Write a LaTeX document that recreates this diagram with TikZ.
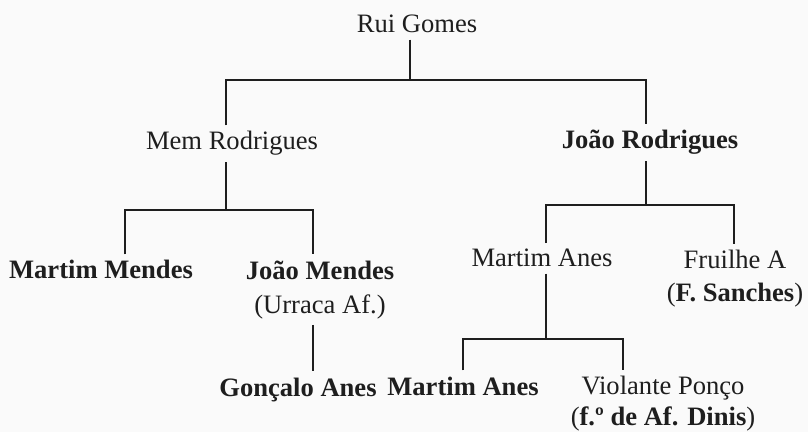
\documentclass[tikz,border=0pt]{standalone}
\usepackage{fontspec}
\setmainfont{Liberation Serif}
\usepackage{xcolor}
\usepackage{tikz}
\definecolor{ink}{HTML}{1E1E1E}
\definecolor{paper}{HTML}{FAFAFA}
\tikzset{
  tie/.style={draw=ink, line width=2pt},
  person/.style={text=ink, anchor=base, inner sep=0.15cm, align=center,
    font=\fontsize{18.9}{24}\selectfont},
  heir/.style={person, font=\fontsize{18.9}{24}\selectfont\bfseries}
}
\begin{document}
\begin{tikzpicture}[x=0.025cm, y=-0.025cm]
  \fill[paper] (0,0) rectangle (808,432);
  \useasboundingbox (0,0) rectangle (808,432);

  % people, placed at the baseline of their last line
  \node[person] (rui) at (417,33) {Rui Gomes};
  \node[person] (mem) at (232,150) {Mem Rodrigues};
  \node[heir] (joaor) at (650,149) {João Rodrigues};
  \node[heir] (mmendes) at (101,279) {Martim Mendes};
  \node[person] (jmendes) at (320,313) {\textbf{João Mendes}\\(Urraca Af.)};
  \node[heir] (goncalo) at (298,396) {Gonçalo Anes};
  \node[person] (manes) at (542,267) {Martim Anes};
  \node[person] (fruilhe) at (735,302) {Fruilhe A\\(\textbf{F. Sanches})};
  \node[heir] (manesb) at (463,395) {Martim Anes};
  \node[person, font=\fontsize{18.9}{21.5}\selectfont] (violante) at (663,425)
    {Violante Ponço\\(\textbf{f.º de Af. Dinis})};

  % junctions of the tree
  \coordinate (b1) at (410,80);
  \coordinate (b1l) at (226,80);
  \coordinate (b1r) at (646,80);
  \coordinate (b2) at (226,210);
  \coordinate (b2l) at (125,210);
  \coordinate (b2r) at (313,210);
  \coordinate (b3) at (646,205);
  \coordinate (b3l) at (546,205);
  \coordinate (b3r) at (734,205);
  \coordinate (b4) at (546,339);
  \coordinate (b4l) at (463,339);
  \coordinate (b4r) at (623,339);

  \draw[tie] (rui.south -| b1) -- (b1);
  \draw[tie] (mem.north -| b1l) -- (b1l) -- (b1r) -- (joaor.north -| b1r);
  \draw[tie] (mem.south -| b2) -- (b2);
  \draw[tie] (mmendes.north -| b2l) -- (b2l) -- (b2r) -- (jmendes.north -| b2r);
  \draw[tie] (jmendes.south -| b2r) -- (goncalo.north -| b2r);
  \draw[tie] (joaor.south -| b3) -- (b3);
  \draw[tie] (manes.north -| b3l) -- (b3l) -- (b3r) -- (fruilhe.north -| b3r);
  \draw[tie] (manes.south -| b4) -- (b4);
  \draw[tie] (manesb.north -| b4l) -- (b4l) -- (b4r) -- (violante.north -| b4r);
\end{tikzpicture}
\end{document}
